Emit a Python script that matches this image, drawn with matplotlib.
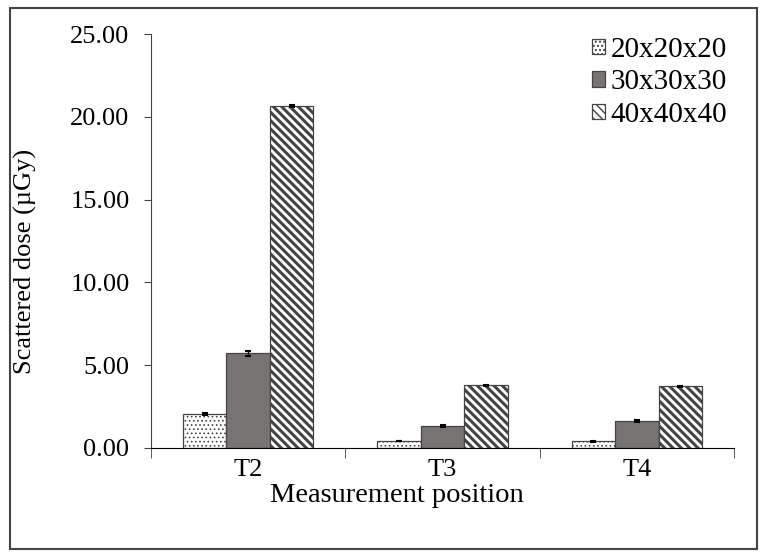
import numpy as np
import matplotlib as mpl
import matplotlib.pyplot as plt
from matplotlib.patches import Rectangle
from matplotlib.ticker import FixedLocator, FormatStrFormatter

plt.rcParams['font.family'] = ['Liberation Serif', 'DejaVu Serif']
plt.rcParams['hatch.color'] = 'black'

positions = ['T2', 'T3', 'T4']
series = ['20x20x20', '30x30x30', '40x40x40']
dose_20 = [2.08, 0.42, 0.40]
dose_30 = [5.71, 1.33, 1.62]
dose_40 = [20.65, 3.78, 3.72]
err_20 = [0.06, 0.02, 0.02]
err_30 = [0.15, 0.06, 0.06]
err_40 = [0.05, 0.04, 0.03]

fig = plt.figure(figsize=(7.68, 5.57), dpi=100)
ax = fig.add_axes([151/768, 1 - 448/557, (734 - 151)/768, (448 - 34)/557])

# rand um die ganze grafik
fig.patches.append(Rectangle((10/768, 8/557), 747/768, 541/557, transform=fig.transFigure,
                             fill=False, edgecolor='#444444', linewidth=1.5))

x = np.arange(len(positions))
w = 0.224
styles = [dict(color='white', hatch='....', hlw=0.7),
          dict(color='#777373', hatch=None, hlw=1.0),
          dict(color='white', hatch='\\\\\\\\', hlw=2.2)]
for i, (vals, errs, st) in enumerate(zip([dose_20, dose_30, dose_40],
                                         [err_20, err_30, err_40], styles)):
    with mpl.rc_context({'hatch.linewidth': st['hlw']}):
        ax.bar(x + (i - 1) * w, vals, w, yerr=errs, color=st['color'], hatch=st['hatch'],
               edgecolor='#444444', linewidth=0.9, label=series[i],
               error_kw=dict(ecolor='black', elinewidth=1, capsize=2.5, capthick=1.5))

ax.set_xlim(-0.5, 2.5)
ax.set_ylim(0, 25)
ax.set_yticks(np.arange(0, 26, 5))
ax.yaxis.set_major_formatter(FormatStrFormatter('%.2f'))
ax.set_xticks(x)
ax.set_xticklabels(positions)
ax.xaxis.set_minor_locator(FixedLocator([-0.5, 0.5, 1.5, 2.5]))
ax.tick_params(axis='x', which='major', length=0, labelsize=19, pad=8)
ax.tick_params(axis='x', which='minor', length=7, direction='out', color='#444444')
ax.tick_params(axis='y', length=5, direction='out', labelsize=19, pad=10.5, color='#444444')
for s in ['top', 'right']:
    ax.spines[s].set_visible(False)
ax.spines['left'].set_color('#444444')
ax.spines['bottom'].set_color('black')

ax.set_ylabel('Scattered dose (µGy)', fontsize=19, labelpad=24, y=0.45)
ax.set_xlabel('Measurement position', fontsize=20.5, labelpad=1, x=0.422)

ax.legend(loc='upper right', bbox_to_anchor=(1 - 7/583, 1 - 3/414), frameon=False, fontsize=21,
          handlelength=0.45, handleheight=0.45, handletextpad=0.17, labelspacing=0.22,
          borderaxespad=0, borderpad=0)

fig.savefig('out.png', dpi=100)
